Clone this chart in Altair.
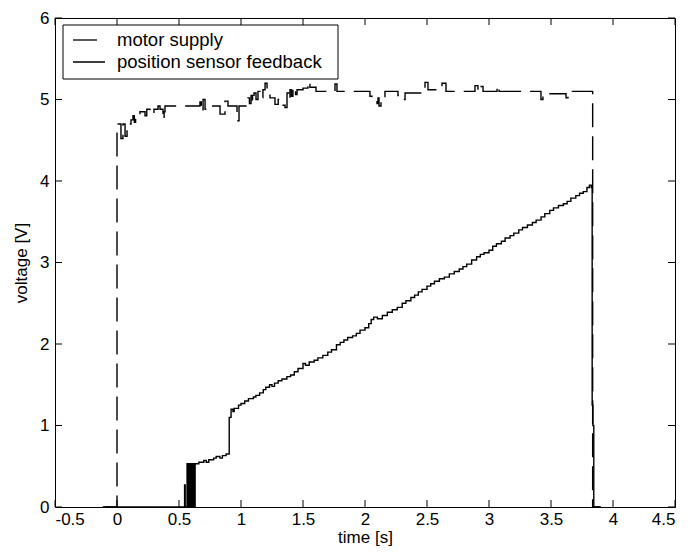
import altair as alt
import pandas as pd

# ---------------- data ----------------
motor_t = [-0.10, 0.000, 0.032, 0.048, 0.065, 0.081, 0.113, 0.129, 0.140, 0.150,
           0.185, 0.226, 0.240, 0.266, 0.298, 0.331, 0.347, 0.371, 0.380, 0.387,
           0.669, 0.680, 0.694, 0.710, 0.726, 0.815, 0.831, 0.871, 0.895, 0.968,
           0.984, 1.056, 1.068, 1.081, 1.093, 1.105, 1.121, 1.137, 1.153, 1.177,
           1.194, 1.210, 1.234, 1.274, 1.300, 1.315, 1.355, 1.371, 1.383, 1.395,
           1.407, 1.419, 1.440, 1.452, 1.500, 1.540, 1.556, 1.605, 1.718, 1.758,
           1.774, 2.040, 2.056, 2.097, 2.105, 2.113, 2.129, 2.161, 2.266, 2.282,
           2.306, 2.323, 2.484, 2.508, 2.621, 2.653, 2.887, 2.911, 2.927, 2.952,
           3.065, 3.081, 3.419, 3.435, 3.621, 3.637, 3.836, 3.900]
motor_v = [0.00, 4.70, 4.52, 4.70, 4.55, 4.70, 4.75, 4.80, 4.72, 4.82,
           4.85, 4.80, 4.88, 4.82, 4.88, 4.92, 4.88, 4.75, 4.85, 4.92,
           4.97, 4.85, 5.00, 4.88, 4.92, 4.92, 4.82, 4.98, 4.92, 4.74,
           4.92, 5.02, 4.95, 5.05, 4.97, 5.08, 5.00, 5.10, 5.02, 5.12,
           5.20, 5.08, 5.02, 4.94, 5.00, 4.93, 4.90, 5.08, 5.00, 5.12,
           5.04, 5.15, 5.06, 5.12, 5.14, 5.22, 5.15, 5.10, 5.10, 5.19,
           5.10, 5.04, 5.00, 4.95, 5.02, 4.92, 5.00, 5.10, 5.05, 5.00,
           5.00, 5.08, 5.21, 5.12, 5.20, 5.10, 5.17, 5.10, 5.16, 5.10,
           5.17, 5.10, 5.00, 5.07, 5.02, 5.10, 0.00, 0.00]

sensor_t = [-0.115, 0.545, 0.550, 0.565, 0.570, 0.575, 0.585, 0.590, 0.600, 0.605,
            0.615, 0.620, 0.625, 0.630, 0.660, 0.700, 0.720, 0.740, 0.780, 0.800,
            0.830, 0.850, 0.880, 0.905, 0.920, 0.935, 0.945, 0.980, 1.000, 1.030,
            1.060, 1.100, 1.120, 1.150, 1.180, 1.200, 1.230, 1.250, 1.270, 1.300,
            1.330, 1.370, 1.400, 1.430, 1.460, 1.500, 1.520, 1.550, 1.590, 1.620,
            1.660, 1.700, 1.730, 1.770, 1.800, 1.830, 1.860, 1.900, 1.930, 1.960,
            2.000, 2.030, 2.050, 2.070, 2.100, 2.140, 2.180, 2.220, 2.260, 2.300,
            2.330, 2.370, 2.400, 2.430, 2.460, 2.500, 2.530, 2.560, 2.600, 2.640,
            2.680, 2.720, 2.760, 2.790, 2.820, 2.860, 2.900, 2.930, 2.960, 3.000,
            3.030, 3.060, 3.100, 3.130, 3.170, 3.200, 3.240, 3.270, 3.310, 3.350,
            3.380, 3.420, 3.450, 3.490, 3.520, 3.560, 3.600, 3.630, 3.660, 3.700,
            3.730, 3.760, 3.790, 3.810, 3.825, 3.832, 3.838, 3.845, 3.900]
sensor_v = [0.00, 0.27, 0.00, 0.53, 0.00, 0.53, 0.00, 0.53, 0.00, 0.53,
            0.00, 0.53, 0.00, 0.53, 0.55, 0.57, 0.55, 0.58, 0.60, 0.62,
            0.60, 0.63, 0.65, 1.10, 1.20, 1.17, 1.21, 1.25, 1.27, 1.30,
            1.33, 1.35, 1.37, 1.40, 1.44, 1.47, 1.50, 1.48, 1.52, 1.55,
            1.57, 1.60, 1.62, 1.66, 1.70, 1.76, 1.74, 1.78, 1.80, 1.83,
            1.86, 1.90, 1.93, 1.99, 2.02, 2.05, 2.08, 2.10, 2.13, 2.17,
            2.20, 2.25, 2.30, 2.33, 2.31, 2.35, 2.39, 2.42, 2.45, 2.50,
            2.53, 2.57, 2.60, 2.64, 2.67, 2.71, 2.74, 2.77, 2.80, 2.82,
            2.86, 2.89, 2.92, 2.95, 2.98, 3.03, 3.07, 3.10, 3.12, 3.15,
            3.20, 3.23, 3.26, 3.30, 3.33, 3.36, 3.40, 3.43, 3.46, 3.49,
            3.52, 3.56, 3.60, 3.64, 3.67, 3.70, 3.72, 3.75, 3.79, 3.82,
            3.85, 3.87, 3.92, 3.95, 3.92, 1.25, 1.00, 0.00, 0.00]

series_names = ["motor supply", "position sensor feedback"]
x_ticks = [-0.5, 0, 0.5, 1, 1.5, 2, 2.5, 3, 3.5, 4, 4.5]
y_ticks = [0, 1, 2, 3, 4, 5, 6]

# ---------------- build tables ----------------
df = pd.concat([
    pd.DataFrame({"t": motor_t, "v": motor_v, "series": series_names[0]}),
    pd.DataFrame({"t": sensor_t, "v": sensor_v, "series": series_names[1]}),
], ignore_index=True)
df["order"] = range(len(df))

W, H = 620, 489
FONT = "Liberation Sans"
TICK = 7
FS = 17

x_scale = alt.Scale(domain=[-0.5, 4.5], nice=False, zero=False)
y_scale = alt.Scale(domain=[0, 6], nice=False, zero=False)
x_axis = alt.Axis(values=x_ticks, title="time [s]", grid=False, domain=False, ticks=False,
                  labelPadding=4, titlePadding=2,
                  labelFont=FONT, titleFont=FONT, labelFontSize=FS, titleFontSize=FS,
                  labelColor="black", titleColor="black", titleFontWeight="normal",
                  labelExpr="datum.value < 0 ? '-' + format(-datum.value, '~g') : format(datum.value, '~g')")
y_axis = alt.Axis(values=y_ticks, title="voltage [V]", grid=False, domain=False, ticks=False,
                  labelPadding=6, titlePadding=9, format="d",
                  labelFont=FONT, titleFont=FONT, labelFontSize=FS, titleFontSize=FS,
                  labelColor="black", titleColor="black", titleFontWeight="normal")

dash_scale = alt.Scale(domain=series_names, range=[[24, 9], [1, 0]])

lines = alt.Chart(df).mark_line(interpolate="step-after", color="black", strokeWidth=1.4).encode(
    x=alt.X("t:Q", scale=x_scale, axis=x_axis),
    y=alt.Y("v:Q", scale=y_scale, axis=y_axis),
    strokeDash=alt.StrokeDash("series:N", scale=dash_scale, legend=None),
    detail="series:N",
    order="order:Q",
)

xt = pd.DataFrame({"t": x_ticks})
yt = pd.DataFrame({"v": y_ticks})
rule_style = dict(color="black", strokeWidth=1)
bottom_ticks = alt.Chart(xt).mark_rule(**rule_style).encode(
    x=alt.X("t:Q", scale=x_scale, axis=x_axis), y=alt.value(H), y2=alt.value(H - TICK))
top_ticks = alt.Chart(xt).mark_rule(**rule_style).encode(
    x=alt.X("t:Q", scale=x_scale, axis=x_axis), y=alt.value(0), y2=alt.value(TICK))
left_ticks = alt.Chart(yt).mark_rule(**rule_style).encode(
    y=alt.Y("v:Q", scale=y_scale, axis=y_axis), x=alt.value(0), x2=alt.value(TICK))
right_ticks = alt.Chart(yt).mark_rule(**rule_style).encode(
    y=alt.Y("v:Q", scale=y_scale, axis=y_axis), x=alt.value(W), x2=alt.value(W - TICK))

# ---------------- legend (manual, MATLAB style) ----------------
legend_df = pd.DataFrame({"series": series_names})
box = alt.Chart(legend_df.head(1)).mark_rect(fill="white", stroke="black", strokeWidth=1).encode(
    x=alt.value(8), x2=alt.value(283), y=alt.value(7), y2=alt.value(61))
legend_layers = [box]
for i, name in enumerate(series_names):
    row = legend_df.iloc[[i]]
    yy = 22 + 22 * i
    legend_layers.append(
        alt.Chart(row).mark_rule(color="black", strokeWidth=1.3,
                                 strokeDash=[24, 9] if i == 0 else [1, 0]).encode(
            x=alt.value(18), x2=alt.value(50), y=alt.value(yy)))
    legend_layers.append(
        alt.Chart(row).mark_text(align="left", baseline="middle", font=FONT, fontSize=18.5,
                                 color="black").encode(
            x=alt.value(62), y=alt.value(yy), text="series:N"))

chart = alt.layer(lines, bottom_ticks, top_ticks, left_ticks, right_ticks, *legend_layers).properties(
    width=W, height=H,
    background="white",
    autosize=alt.AutoSizeParams(type="none"),
    padding={"left": 47, "top": 10, "right": 5, "bottom": 41},
).configure_view(stroke="black", strokeWidth=1)

chart.save("out.html", embed_options={"renderer": "svg", "actions": False})
